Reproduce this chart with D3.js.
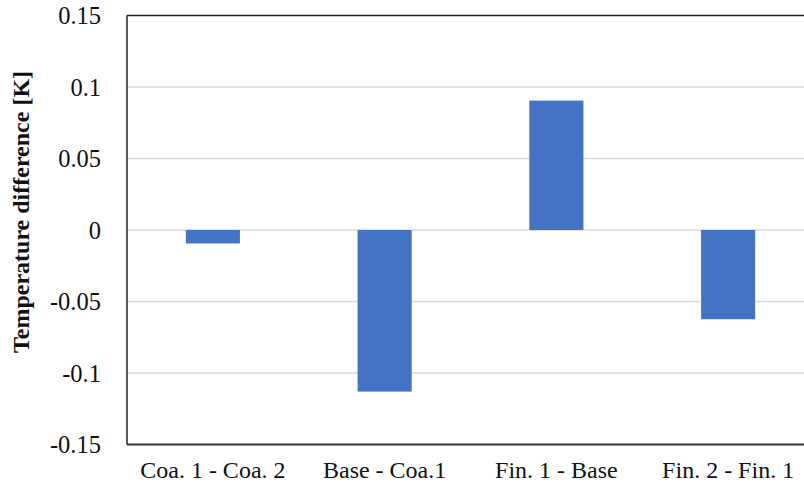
<!DOCTYPE html>
<html><head><meta charset="utf-8">
<script src="https://cdn.jsdelivr.net/npm/d3@7"></script>
<style>body{margin:0;background:#fff}svg{display:block}</style>
</head><body>
<svg id="c" width="804" height="488"></svg>
<script>
const categories = ["Coa. 1 - Coa. 2", "Base - Coa.1", "Fin. 1 - Base", "Fin. 2 - Fin. 1"];
const values = [-0.0094, -0.113, 0.0905, -0.0624];
const yTicks = [-0.15, -0.1, -0.05, 0, 0.05, 0.1, 0.15];
const yTickLabels = ["-0.15", "-0.1", "-0.05", "0", "0.05", "0.1", "0.15"];
const yTitle = "Temperature difference [K]";

const svg = d3.select("#c");
const m = {l: 127, t: 15.5, b: 444.5, r: 814};
const font = "'Liberation Serif', 'Times New Roman', serif";

const x = d3.scaleBand().domain(categories).range([m.l, m.r]).paddingInner(0.685).paddingOuter(0.3425);
const y = d3.scaleLinear().domain([-0.15, 0.15]).range([m.b, m.t]);

// gridlines
svg.append("g").selectAll("line").data(yTicks.filter(d => d > -0.15 && d < 0.15)).join("line")
  .attr("x1", m.l).attr("x2", 804).attr("y1", d => y(d)).attr("y2", d => y(d))
  .attr("stroke", "#d9d9d9").attr("stroke-width", 1.3);

// bars
svg.append("g").selectAll("rect").data(values).join("rect")
  .attr("x", (d, i) => x(categories[i]))
  .attr("width", x.bandwidth())
  .attr("y", d => y(Math.max(0, d)))
  .attr("height", d => Math.abs(y(d) - y(0)))
  .attr("fill", "#4472c4");

// frame lines
svg.append("line").attr("x1", m.l).attr("x2", 804).attr("y1", m.t).attr("y2", m.t).attr("stroke", "#222").attr("stroke-width", 1.5);
svg.append("line").attr("x1", m.l).attr("x2", 804).attr("y1", m.b).attr("y2", m.b).attr("stroke", "#333").attr("stroke-width", 2);
svg.append("line").attr("x1", m.l).attr("x2", m.l).attr("y1", m.t).attr("y2", m.b).attr("stroke", "#222").attr("stroke-width", 1.5);

// y axis labels
const yAxis = d3.axisLeft(y).tickValues(yTicks).tickSize(0).tickPadding(0)
  .tickFormat((d, i) => yTickLabels[i]);
const gy = svg.append("g").attr("transform", `translate(${m.l - 26},0)`).call(yAxis);
gy.select(".domain").remove();
gy.selectAll("text").attr("font-family", font).attr("font-size", 24.5).attr("fill", "#111").attr("dy", "0.34em");

// x axis labels
const xAxis = d3.axisBottom(x).tickSize(0).tickPadding(0);
const gx = svg.append("g").attr("transform", `translate(0,478)`).call(xAxis);
gx.select(".domain").remove();
gx.selectAll("text").attr("font-family", font).attr("font-size", 24).attr("fill", "#111").attr("y", 0).attr("dy", 0);

// y title
svg.append("text").attr("transform", `translate(29,212) rotate(-90)`)
  .attr("text-anchor", "middle").attr("font-family", font).attr("font-weight", "bold")
  .attr("font-size", 24).attr("fill", "#111").text(yTitle);
</script>
</body></html>
